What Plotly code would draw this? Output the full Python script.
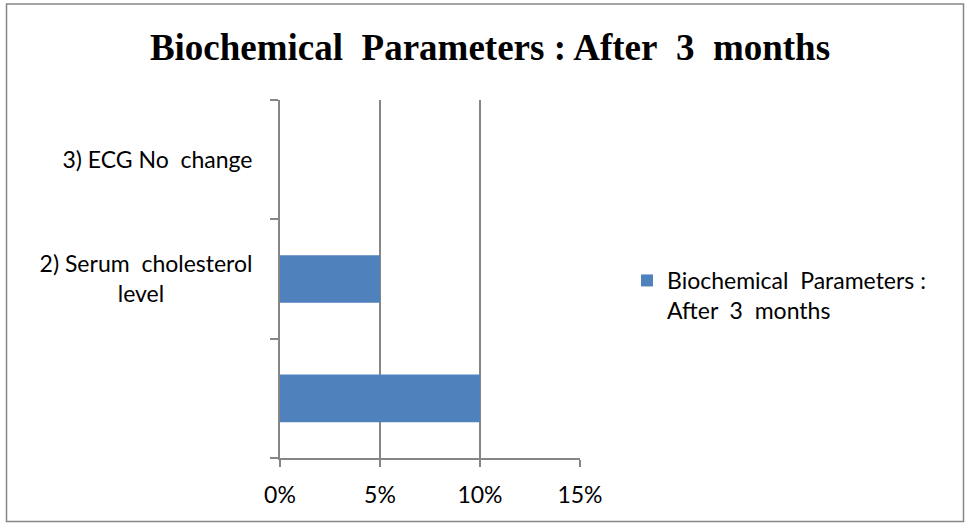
import plotly.graph_objects as go

# Data
pad = "\u00a0" * 15
categories = ["", "2) Serum\u00a0 cholesterol<br>level" + pad, "3) ECG No\u00a0 change"]
values = [10, 5, 0]
series_name = "Biochemical\u00a0 Parameters :<br>After\u00a0 3\u00a0 months"
title_text = "Biochemical\u00a0 Parameters : After\u00a0 3\u00a0 months"
x_ticks = [0, 5, 10, 15]
x_tick_labels = ["0%", "5%", "10%", "15%"]

W, H = 965, 523
L, R, T, B = 280, 580, 100, 458

def px_x(p):
    return (p - L) / (R - L)

def px_y(p):
    return (B - p) / (B - T)

fig = go.Figure()
fig.add_trace(go.Bar(
    x=values,
    y=list(range(len(categories))),
    orientation="h",
    name=series_name,
    marker=dict(color="#4F81BD", line=dict(width=0)),
    width=0.4,
    showlegend=True,
))

axis_color = "#868686"
font_family = "Lato, 'Open Sans', sans-serif"
fs = 23

fig.update_layout(
    width=W, height=H,
    margin=dict(l=L, r=W - R, t=T, b=H - B),
    paper_bgcolor="white",
    plot_bgcolor="white",
    title=dict(
        text="<b>" + title_text + "</b>",
        x=px_x(490), xref="paper", xanchor="center",
        y=1 - 47 / H, yref="container", yanchor="middle",
        font=dict(family="'Liberation Serif', 'Times New Roman', serif", size=37, color="black"),
    ),
    xaxis=dict(
        range=[0, 15],
        tickvals=x_ticks,
        ticktext=x_tick_labels,
        showgrid=True, gridcolor=axis_color, gridwidth=1.8,
        zeroline=False,
        showline=True, linecolor=axis_color, linewidth=1.8,
        ticks="outside", ticklen=7, tickcolor=axis_color, tickwidth=1.8,
        tickfont=dict(family=font_family, size=fs, color="black"),
        ticklabelstandoff=8,
    ),
    yaxis=dict(
        range=[-0.5, 2.5],
        tickvals=list(range(len(categories))),
        ticktext=categories,
        showgrid=False, zeroline=False,
        showline=True, linecolor=axis_color, linewidth=1.8,
        ticks="",
        minor=dict(tick0=-0.5, dtick=1, ticks="outside", ticklen=8, tickcolor=axis_color, tickwidth=1.8, showgrid=False),
        tickfont=dict(family=font_family, size=fs, color="black"),
        ticklabelstandoff=21,
    ),
    legend=dict(
        x=px_x(627), y=px_y(259), xanchor="left", yanchor="top",
        font=dict(family=font_family, size=fs, color="black"),
        itemwidth=30,
        valign="top",
        bgcolor="rgba(0,0,0,0)",
    ),
    shapes=[dict(
        type="rect", xref="paper", yref="paper",
        x0=px_x(6.5), x1=px_x(963.5), y0=px_y(521.5), y1=px_y(4),
        line=dict(color="#868686", width=1.5), fillcolor="rgba(0,0,0,0)", layer="below",
    )],
    bargap=0.6,
)

fig.write_html("out.html", config={"displayModeBar": False},
               post_script="document.body.style.margin='0';")
